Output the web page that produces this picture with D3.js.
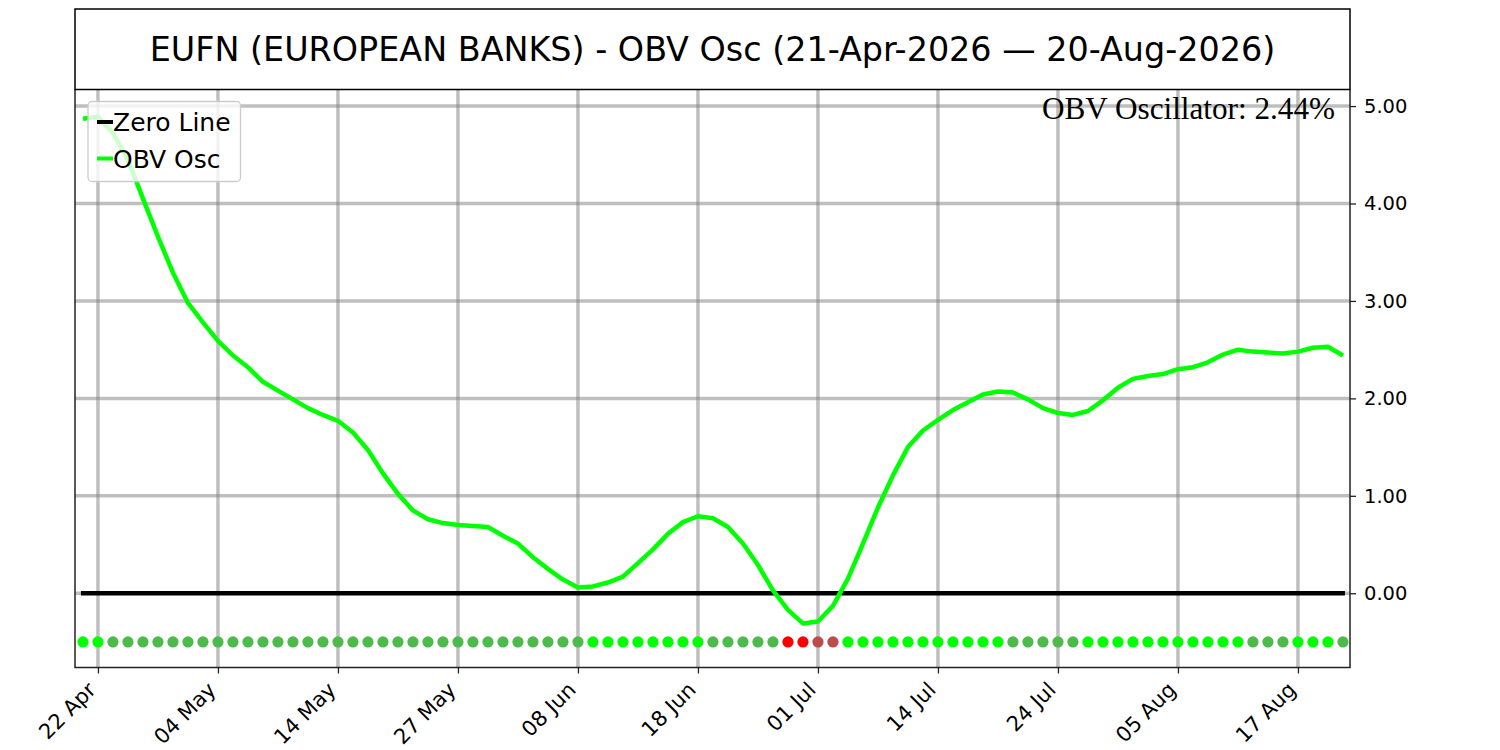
<!DOCTYPE html>
<html>
  <head>
    <meta charset="utf-8">
    <title>EUFN OBV Osc</title>
    <style>
      body{margin: 0; background: #fff;}
      svg{display: block; font-family: "DejaVu Sans", sans-serif;}
    </style>
    <script src="https://d3js.org/d3.v7.min.js"></script>
  </head>
  <body>
    <script>

        // trading days, 21-Apr-2026 .. 20-Aug-2026
        var dates = [
            "2026-04-21","2026-04-22","2026-04-23","2026-04-24","2026-04-27","2026-04-28","2026-04-29","2026-04-30",
            "2026-05-01","2026-05-04","2026-05-05","2026-05-06","2026-05-07","2026-05-08","2026-05-11","2026-05-12",
            "2026-05-13","2026-05-14","2026-05-15","2026-05-18","2026-05-19","2026-05-20","2026-05-21","2026-05-22",
            "2026-05-26","2026-05-27","2026-05-28","2026-05-29","2026-06-01","2026-06-02","2026-06-03","2026-06-04",
            "2026-06-05","2026-06-08","2026-06-09","2026-06-10","2026-06-11","2026-06-12","2026-06-15","2026-06-16",
            "2026-06-17","2026-06-18","2026-06-22","2026-06-23","2026-06-24","2026-06-25","2026-06-26","2026-06-29",
            "2026-06-30","2026-07-01","2026-07-02","2026-07-06","2026-07-07","2026-07-08","2026-07-09","2026-07-10",
            "2026-07-13","2026-07-14","2026-07-15","2026-07-16","2026-07-17","2026-07-20","2026-07-21","2026-07-22",
            "2026-07-23","2026-07-24","2026-07-27","2026-07-28","2026-07-29","2026-07-30","2026-07-31","2026-08-03",
            "2026-08-04","2026-08-05","2026-08-06","2026-08-07","2026-08-10","2026-08-11","2026-08-12","2026-08-13",
            "2026-08-14","2026-08-17","2026-08-18","2026-08-19","2026-08-20"
        ];

        // OBV oscillator (%)
        var obvOsc = [
            4.87, 4.89, 4.72, 4.45, 4.05, 3.66, 3.29, 2.98, 2.78, 2.59,
            2.44, 2.32, 2.17, 2.08, 1.99, 1.90, 1.83, 1.77, 1.65, 1.47,
            1.23, 1.02, 0.85, 0.76, 0.72, 0.70, 0.69, 0.68, 0.59, 0.51,
            0.37, 0.25, 0.14, 0.06, 0.07, 0.11, 0.17, 0.31, 0.45, 0.61,
            0.73, 0.79, 0.77, 0.68, 0.51, 0.29, 0.03, -0.17, -0.31, -0.29,
            -0.13, 0.15, 0.51, 0.88, 1.21, 1.50, 1.67, 1.78, 1.88, 1.96,
            2.04, 2.07, 2.06, 1.99, 1.90, 1.85, 1.83, 1.87, 1.98, 2.11,
            2.20, 2.23, 2.25, 2.30, 2.32, 2.37, 2.45, 2.50, 2.48, 2.47,
            2.46, 2.48, 2.52, 2.53, 2.44
        ];

        var yTicks = [0, 1, 2, 3, 4, 5];
        var tickStep = 8;      // x tick every 8 sessions, starting at the 2nd
        var dotLevel = -0.5;   // row of signal dots
        var title = "EUFN (EUROPEAN BANKS) - OBV Osc (21-Apr-2026 \u2014 20-Aug-2026)";

        var width = 1500, height = 750;
        var plotL = 75, plotR = 1350, plotT = 89.5, plotB = 667.5;

        var parse = d3.timeParse("%Y-%m-%d");
        var fmt = d3.timeFormat("%d %b");

        var svg = d3.select("body").append("svg")
            .attr("width", width)
            .attr("height", height);

        var x = d3.scaleLinear().domain([-0.53, 84.47]).range([plotL, plotR]);
        var y = d3.scaleLinear().domain([-0.762, 5.17]).range([plotB, plotT]);

        var xTickIdx = d3.range(1, dates.length, tickStep);

        // grid
        var grid = svg.append("g").attr("stroke", "#808080").attr("stroke-opacity", 0.5).attr("stroke-width", 3.5);
        grid.selectAll(".gx").data(xTickIdx).enter().append("line")
            .attr("x1", function (d) { return x(d); })
            .attr("x2", function (d) { return x(d); })
            .attr("y1", plotT).attr("y2", plotB);
        grid.selectAll(".gy").data(yTicks).enter().append("line")
            .attr("x1", plotL).attr("x2", plotR)
            .attr("y1", function (d) { return y(d); })
            .attr("y2", function (d) { return y(d); });

        // zero line
        svg.append("line")
            .attr("x1", x(0) - 2).attr("x2", x(dates.length - 1) + 2)
            .attr("y1", y(0)).attr("y2", y(0))
            .attr("stroke", "#000").attr("stroke-width", 4.5);

        // signal dots: rising / falling, above / below zero
        var dotColor = function (v, i) {
            var up = i === 0 || v >= obvOsc[i - 1];
            if (v >= 0) return up ? "#00ff00" : "#4cbb4c";
            return up ? "#bb4c4c" : "#ff0000";
        };
        svg.append("g").selectAll("circle").data(obvOsc).enter().append("circle")
            .attr("cx", function (d, i) { return x(i); })
            .attr("cy", y(dotLevel))
            .attr("r", 5.6)
            .attr("fill", dotColor);

        // oscillator line
        var line = d3.line()
            .x(function (d, i) { return x(i); })
            .y(function (d) { return y(d); });
        svg.append("path")
            .datum(obvOsc)
            .attr("d", line)
            .attr("fill", "none")
            .attr("stroke", "#00ff00")
            .attr("stroke-width", 4.5)
            .attr("stroke-linejoin", "round");

        // axes
        var xAxis = d3.axisBottom(x)
            .tickValues(xTickIdx)
            .tickSize(6)
            .tickFormat(function (i) { return fmt(parse(dates[i])); });
        var gx = svg.append("g")
            .attr("transform", "translate(0," + plotB + ")")
            .call(xAxis);
        gx.select(".domain").remove();
        gx.selectAll("line").attr("stroke", "#222").attr("stroke-width", 1.3);
        gx.selectAll("text")
            .attr("font-size", 21)
            .attr("font-family", "DejaVu Sans")
            .attr("fill", "#000")
            .style("text-anchor", "end")
            .attr("y", 0).attr("dy", "0.72em")
            .attr("transform", "translate(-12,13) rotate(-45)");

        var yAxis = d3.axisRight(y)
            .tickValues(yTicks)
            .tickSize(6)
            .tickPadding(8)
            .tickFormat(d3.format(".2f"));
        var gy = svg.append("g")
            .attr("transform", "translate(" + plotR + ",0)")
            .call(yAxis);
        gy.select(".domain").remove();
        gy.selectAll("line").attr("stroke", "#222").attr("stroke-width", 1.3);
        gy.selectAll("text")
            .attr("font-size", 19.5)
            .attr("font-family", "DejaVu Sans")
            .attr("fill", "#000");

        // frame (left, bottom, right) and title box
        svg.append("path")
            .attr("d", "M" + plotL + "," + plotT + "V" + plotB + "H" + plotR + "V" + plotT)
            .attr("fill", "none").attr("stroke", "#222").attr("stroke-width", 1.5);
        svg.append("rect")
            .attr("x", plotL).attr("y", 9)
            .attr("width", plotR - plotL).attr("height", plotT - 9)
            .attr("fill", "none").attr("stroke", "#000").attr("stroke-width", 1.5);
        svg.append("text")
            .attr("x", (plotL + plotR) / 2).attr("y", 61)
            .attr("text-anchor", "middle")
            .attr("font-size", 33.4)
            .text(title);

        // value annotation
        svg.append("text")
            .attr("x", 1335).attr("y", 119)
            .attr("text-anchor", "end")
            .attr("font-family", "Liberation Serif, serif")
            .attr("font-size", 31.2)
            .text("OBV Oscillator: " + d3.format(".2f")(obvOsc[obvOsc.length - 1]) + "%");

        // legend
        var legend = svg.append("g");
        legend.append("rect")
            .attr("x", 88).attr("y", 101.5)
            .attr("width", 152.5).attr("height", 80)
            .attr("rx", 4)
            .attr("fill", "#fff").attr("fill-opacity", 0.8)
            .attr("stroke", "#cccccc").attr("stroke-width", 1.3);
        var items = [{name: "Zero Line", color: "#000"}, {name: "OBV Osc", color: "#00ff00"}];
        var li = legend.selectAll(".li").data(items).enter().append("g")
            .attr("transform", function (d, i) { return "translate(0," + (122 + i * 36.5) + ")"; });
        li.append("line")
            .attr("x1", 97).attr("x2", 113)
            .attr("stroke", function (d) { return d.color; })
            .attr("stroke-width", 4);
        li.append("text")
            .attr("x", 113).attr("y", 9)
            .attr("font-size", 25)
            .text(function (d) { return d.name; });

    </script>
  </body>
</html>
